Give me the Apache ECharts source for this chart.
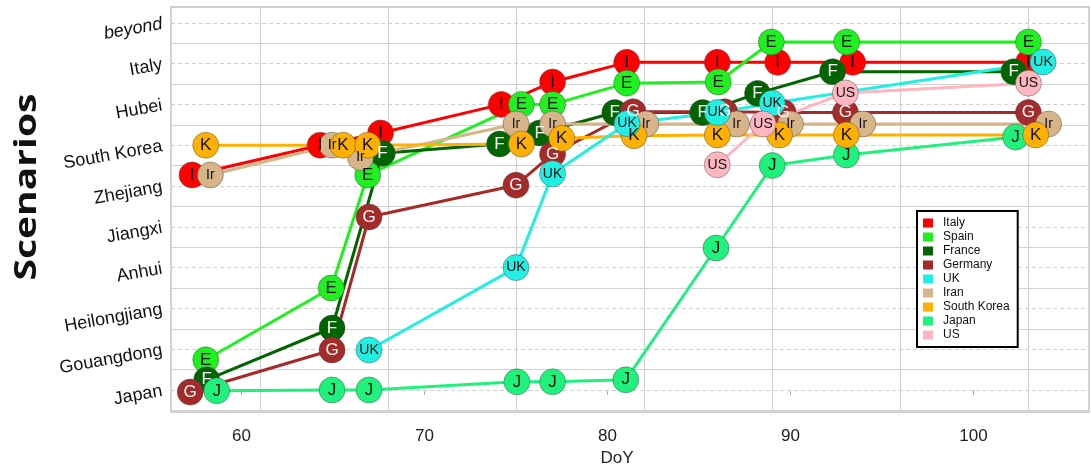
<!DOCTYPE html>
<html>
<head>
<meta charset="utf-8">
<script src="https://cdn.jsdelivr.net/npm/echarts@6/dist/echarts.min.js"></script>
<style>
  html, body { margin: 0; padding: 0; background: #ffffff; }
  #chart { width: 1091px; height: 466px; }
</style>
</head>
<body>
<div id="chart"></div>
<script>
// Scenario levels (bottom to top) used as y tick labels
const scenarios = ['Japan', 'Gouangdong', 'Heilongjiang', 'Anhui', 'Jiangxi',
                   'Zhejiang', 'South Korea', 'Hubei', 'Italy', 'beyond'];
// Day-of-year tick labels and weekly grid lines
const dayTicks = [60, 70, 80, 90, 100];
const weekLines = [61, 68, 75, 82, 89, 96, 103];

// Countries, in legend order, with their marker letters
const countries = ['Italy', 'Spain', 'France', 'Germany', 'UK', 'Iran', 'South Korea', 'Japan', 'US'];
const letters   = ['I', 'E', 'F', 'G', 'UK', 'Ir', 'K', 'J', 'US'];

// [day of year, scenario level] for each country
const italy = [[57.3, 5.27], [64.3, 6.0], [67.6, 6.3], [74.2, 7.0], [77.0, 7.55],
               [81.05, 8.03], [86.0, 8.03], [89.3, 8.03], [93.4, 8.03], [103.0, 8.03]];
const spain = [[58.05, 0.74], [64.9, 2.5], [66.9, 5.27], [75.3, 7.0], [77.0, 7.0],
               [81.05, 7.52], [86.05, 7.55], [88.95, 8.53], [93.07, 8.53], [103.0, 8.53]];
const france = [[58.1, 0.25], [64.95, 1.52], [67.7, 5.8], [74.1, 6.03], [76.3, 6.3],
                [80.4, 6.8], [85.2, 6.8], [88.2, 7.27], [92.3, 7.8], [102.2, 7.8]];
const germany = [[57.2, -0.05], [64.95, 0.98], [66.97, 4.24], [75.0, 5.02], [77.0, 5.78],
                 [81.4, 6.82], [86.4, 6.82], [89.6, 6.8], [93.0, 6.8], [103.0, 6.8]];
const uk = [[66.97, 0.98], [75.0, 3.0], [77.0, 5.3], [81.07, 6.53], [86.0, 6.8],
            [89.0, 7.03], [103.8, 8.04]];
const iran = [[58.3, 5.27], [64.95, 6.0], [66.5, 5.7], [75.0, 6.52], [77.0, 6.52],
              [82.1, 6.52], [87.05, 6.52], [90.0, 6.52], [93.95, 6.52], [104.1, 6.52]];
const southKorea = [[58.05, 6.0], [65.55, 6.0], [66.9, 6.0], [75.3, 6.03], [77.5, 6.17],
                    [81.45, 6.23], [86.0, 6.25], [89.4, 6.25], [93.05, 6.25], [103.4, 6.25]];
const japan = [[58.65, -0.02], [64.95, 0.0], [66.97, 0.0], [75.05, 0.2], [77.0, 0.2],
               [81.0, 0.25], [85.93, 3.48], [89.0, 5.5], [93.05, 5.76], [102.3, 6.2]];
const us = [[86.0, 5.52], [88.5, 6.52], [93.0, 7.28], [103.0, 7.52]];

const points = {
  'Italy': italy, 'Spain': spain, 'France': france, 'Germany': germany, 'UK': uk,
  'Iran': iran, 'South Korea': southKorea, 'Japan': japan, 'US': us
};

// Fill colours per country
const palette = {
  'Italy': '#ff0000', 'Spain': '#1ff01f', 'France': '#006400', 'Germany': '#a52a2a',
  'UK': '#22efe4', 'Iran': '#d8b48a', 'South Korea': '#ffb000', 'Japan': '#20f07c', 'US': '#ffb6c1'
};
const darkFill = { 'France': true, 'Germany': true };

// Stacking order of the markers (later ones sit on top)
const drawOrder = ['Italy', 'Spain', 'France', 'Germany', 'Iran', 'Japan', 'South Korea', 'UK', 'US'];

const FONT = '"Liberation Sans", Arial, Helvetica, sans-serif';
const GRID_COLOR = '#d2d2d2';

const levels = scenarios.map((_, i) => i);
const halfLevels = scenarios.map((_, i) => i - 0.5);

const gridLines = []
  .concat(weekLines.map(d => ({ xAxis: d, lineStyle: { color: GRID_COLOR, width: 1.2, type: 'solid' } })))
  .concat(halfLevels.map(v => ({ yAxis: v, lineStyle: { color: GRID_COLOR, width: 1.2, type: 'solid' } })))
  .concat(levels.map(v => ({ yAxis: v, lineStyle: { color: '#cfcfcf', width: 1, type: [4, 3] } })));

const series = [{
  type: 'line', name: '__grid', data: [], z: 1, silent: true,
  markLine: { z: 1, silent: true, symbol: ['none', 'none'], label: { show: false }, animation: false, data: gridLines }
}];

drawOrder.forEach(name => {
  series.push({
    type: 'line', name, data: points[name], z: 2, silent: true,
    symbol: 'none', showSymbol: false,
    lineStyle: { color: palette[name], width: 3 },
    itemStyle: { color: palette[name] }
  });
});

drawOrder.forEach(name => {
  const letter = letters[countries.indexOf(name)];
  series.push({
    type: 'scatter', name, data: points[name], z: 3,
    symbol: 'circle', symbolSize: 26,
    itemStyle: { color: palette[name], borderColor: 'rgba(70,70,70,0.45)', borderWidth: 1, opacity: 1 },
    label: {
      show: true, position: 'inside', formatter: letter,
      color: darkFill[name] ? '#ffffff' : '#111111',
      fontFamily: FONT, fontSize: letter.length > 1 ? 14 : 17
    }
  });
});

const chart = echarts.init(document.getElementById('chart'), null, { renderer: 'canvas' });
chart.setOption({
  animation: false,
  backgroundColor: '#ffffff',
  grid: {
    left: 171, right: 2, top: 7, bottom: 54,
    outerBoundsMode: 'none', containLabel: false,
    show: true, borderColor: '#c4c4c4', borderWidth: 1.5, backgroundColor: '#ffffff'
  },
  xAxis: {
    type: 'value', min: 56.15, max: 106.31,
    name: 'DoY', nameLocation: 'middle', nameGap: 36,
    nameTextStyle: { fontFamily: FONT, fontSize: 17, color: '#222', padding: [0, 26, 0, 0] },
    axisLine: { show: false },
    axisTick: { show: true, customValues: dayTicks, length: 5, lineStyle: { color: '#aaaaaa' } },
    axisLabel: { customValues: dayTicks, fontFamily: FONT, fontSize: 17, color: '#222', margin: 16 },
    splitLine: { show: false }
  },
  yAxis: {
    type: 'value', min: -0.539, max: 9.387,
    axisLine: { show: false },
    axisTick: { show: false },
    axisLabel: {
      customValues: levels, rotate: 10, margin: 9,
      fontFamily: FONT, fontSize: 18, color: '#111', padding: [2, 0, 0, 0],
      formatter: v => {
        const name = scenarios[Math.round(v)];
        return name === 'beyond' ? '{it|' + name + '}' : name;
      },
      rich: { it: { fontStyle: 'italic', fontFamily: FONT, fontSize: 18, color: '#111' } }
    },
    splitLine: { show: false }
  },
  legend: {
    data: countries, orient: 'vertical', left: 917, top: 211, z: 10,
    icon: 'rect', itemWidth: 10, itemHeight: 9, itemGap: 2,
    padding: [6, 8, 6, 6],
    borderColor: '#000', borderWidth: 2, backgroundColor: '#ffffff',
    selectedMode: false,
    textStyle: { fontFamily: FONT, fontSize: 12, color: '#111', lineHeight: 12, padding: [0, 0, 0, 5] }
  },
  graphic: [{
    type: 'text', x: 27, y: 187, rotation: Math.PI / 2, scaleX: 1.3,
    style: {
      text: 'Scenarios', fontFamily: '"Open Sans", "Noto Sans", sans-serif', fontWeight: 'bold',
      fontSize: 30, fill: '#111', align: 'center', verticalAlign: 'middle'
    }
  }],
  series
});
</script>
</body>
</html>
